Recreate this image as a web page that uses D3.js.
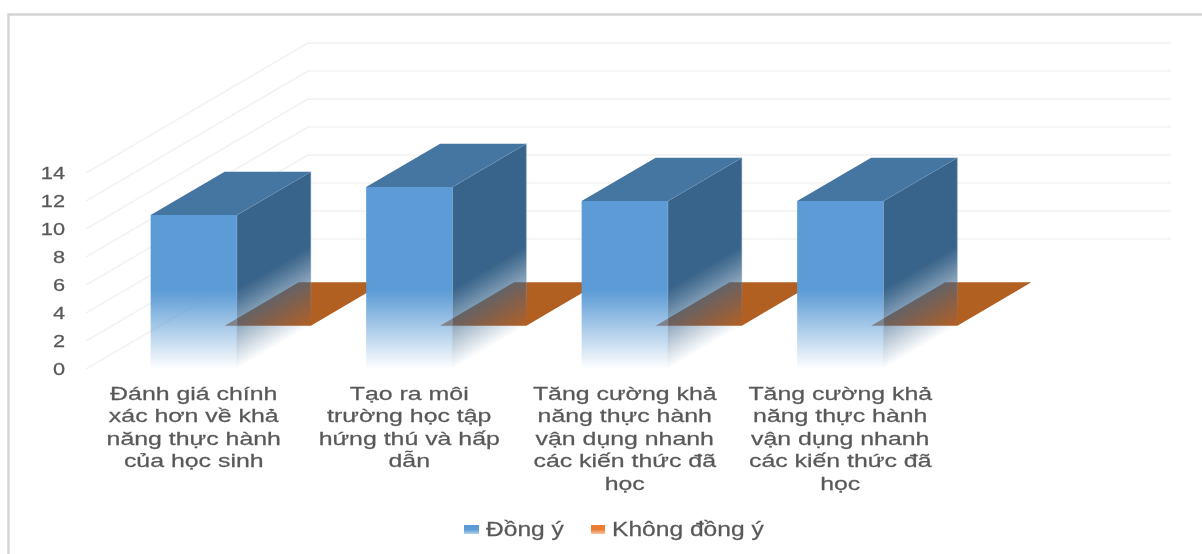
<!DOCTYPE html>
<html>
<head>
<meta charset="utf-8">
<script src="https://cdn.jsdelivr.net/npm/d3@7/dist/d3.min.js"></script>
<style>
html,body{margin:0;padding:0;background:#fff;}
svg{display:block;}
text{font-family:"Liberation Sans",Arial,sans-serif;fill:#595959;stroke:#595959;stroke-width:0.25px;}
</style>
</head>
<body>
<div id="chart"></div>
<script>
const categories = [
  ["Đánh giá chính","xác hơn về khả","năng thực hành","của học sinh"],
  ["Tạo ra môi","trường học tập","hứng thú và hấp","dẫn"],
  ["Tăng cường khả","năng thực hành","vận dụng nhanh","các kiến thức đã","học"],
  ["Tăng cường khả","năng thực hành","vận dụng nhanh","các kiến thức đã","học"]
];
const seriesNames = ["Đồng ý","Không đồng ý"];
const dongY = [11,13,12,12];
const khongDongY = [0,0,0,0];
const yTicks = [0,2,4,6,8,10,12,14];
const legendColors = ["#5B9BD5","#ED7D31"];

const W=1202,H=554;
const svg=d3.select("#chart").append("svg").attr("width",W).attr("height",H);
const defs=svg.append("defs");
defs.append("filter").attr("id","soft").attr("x","-2%").attr("y","-2%").attr("width","104%").attr("height","104%")
  .append("feGaussianBlur").attr("stdDeviation",0.4);
const root=svg.append("g").attr("filter","url(#soft)");

// frame
root.append("path").attr("d",`M${W},14.5H8.5V${H}`).attr("fill","none").attr("stroke","#d4d4d4").attr("stroke-width",2.4);

const ids=categories.map((_,i)=>i);
const x=d3.scaleBand().domain(ids).range([86,948]).paddingInner(0.6).paddingOuter(0.3);
const y=d3.scaleLinear().domain([0,14]).range([369,173]);
// depth: 0 = front of chart, 3 = back wall
const dX=d3.scaleLinear().domain([0,3]).range([0,222]);
const dY=d3.scaleLinear().domain([0,3]).range([0,-130]);
const P=(px,val,d)=>[px+dX(d),y(val)+dY(d)];
const poly=pts=>"M"+pts.map(p=>p.join(",")).join("L")+"Z";

// walls
const xLeft=86,xRight=1171-222;
const grid=root.append("g").attr("fill","none").attr("stroke","#f2f2f2").attr("stroke-width",1.6);
grid.selectAll("path").data(yTicks).join("path")
  .attr("d",v=>{
    const a=P(xLeft,v,0),b=P(xLeft,v,3),c=P(xRight,v,3);
    return `M${a}L${b}L${c}`;
  });

// axis
const axis=d3.axisLeft(y).tickValues(yTicks).tickSize(0).tickPadding(0);
const ax=root.append("g").attr("transform","translate(65,0)").call(axis);
ax.select(".domain").remove();
ax.selectAll("text").attr("font-size",17).style("font-family",'"Liberation Sans",Arial,sans-serif').attr("fill","#595959")
  .attr("x",0).attr("dy",".34em").attr("transform",`scale(1.28,1)`);

// orange flat series (depth 1..2)
root.append("g").selectAll("path").data(khongDongY).join("path")
  .attr("d",(v,i)=>{
    const l=x(i),r=x(i)+x.bandwidth();
    return poly([P(l,v,1),P(r,v,1),P(r,v,2),P(l,v,2)]);
  }).attr("fill","#B25F24");

// fades
const fadeTop=5.7;
function stops(g,col){
  g.append("stop").attr("offset",0).attr("stop-color",col).attr("stop-opacity",1);
  g.append("stop").attr("offset",0.12).attr("stop-color",col).attr("stop-opacity",0.9);
  g.append("stop").attr("offset",1).attr("stop-color",col).attr("stop-opacity",0);
}
stops(defs.append("linearGradient").attr("id","front").attr("gradientUnits","userSpaceOnUse")
  .attr("x1",0).attr("x2",0).attr("y1",y(fadeTop)).attr("y2",y(0)),"#5B9BD5");

const bars=root.append("g").selectAll("g").data(dongY).join("g");
bars.each(function(v,i){
  const g=d3.select(this);
  const l=x(i),r=l+x.bandwidth();
  // iso-fade lines of the side face run along the depth vector
  const vx=dX(1),vy=dY(1),nx=-vy,ny=vx;
  const a=[r,y(fadeTop)], dyFade=y(0)-y(fadeTop);
  const t=dyFade*ny/(nx*nx+ny*ny);
  const b=[a[0]+nx*t,a[1]+ny*t];
  stops(defs.append("linearGradient").attr("id","side"+i).attr("gradientUnits","userSpaceOnUse")
    .attr("x1",a[0]).attr("y1",a[1]).attr("x2",b[0]).attr("y2",b[1]),"#39648A");
  stops(defs.append("linearGradient").attr("id","sideEdge"+i).attr("gradientUnits","userSpaceOnUse")
    .attr("x1",a[0]).attr("y1",a[1]).attr("x2",b[0]).attr("y2",b[1]),"#8FB4D8");
  g.append("path").attr("d",poly([P(r,0,0),P(r,v,0),P(r,v,1),P(r,0,1)]))
    .attr("fill",`url(#side${i})`).attr("stroke",`url(#sideEdge${i})`).attr("stroke-width",0.5);
  g.append("path").attr("d",poly([P(l,v,0),P(r,v,0),P(r,v,1),P(l,v,1)]))
    .attr("fill","#4575A1");
  g.append("path").attr("d",poly([P(l,0,0),P(r,0,0),P(r,v,0),P(l,v,0)]))
    .attr("fill","url(#front)");
});

// category labels
const labels=root.append("g").attr("font-size",19);
labels.selectAll("text").data(categories).join("text")
  .attr("text-anchor","middle")
  .attr("transform",(d,i)=>`translate(${x(i)+x.bandwidth()/2},0) scale(1.31,1)`)
  .each(function(lines){
    d3.select(this).selectAll("tspan").data(lines).join("tspan")
      .attr("x",0).attr("y",(d,j)=>400+j*22.5).text(d=>d);
  });

// legend
const legend=root.append("g");
const legX=[464,591],legT=[486,612];
legendColors.forEach((c,i)=>{
  const g=defs.append("linearGradient").attr("id","leg"+i).attr("x1",0).attr("x2",0).attr("y1",0).attr("y2",1);
  g.append("stop").attr("offset",0).attr("stop-color",c);
  g.append("stop").attr("offset",0.5).attr("stop-color",c);
  g.append("stop").attr("offset",1).attr("stop-color",c).attr("stop-opacity",0.45);
});
legend.selectAll("rect").data(seriesNames).join("rect")
  .attr("x",(d,i)=>legX[i]).attr("y",525).attr("width",(d,i)=>i?14:15).attr("height",9).attr("fill",(d,i)=>`url(#leg${i})`);
legend.selectAll("text").data(seriesNames).join("text")
  .attr("transform",(d,i)=>`translate(${legT[i]},535.5) scale(1.23,1)`).attr("font-size",20).text(d=>d);
</script>
</body>
</html>
